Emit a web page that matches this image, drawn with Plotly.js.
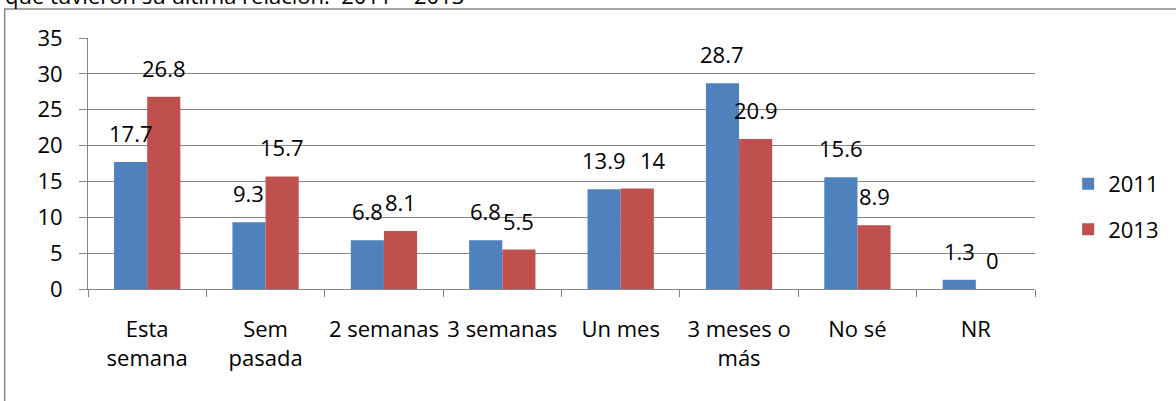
<!DOCTYPE html>
<html>
<head>
<meta charset="utf-8">
<script src="https://cdn.plot.ly/plotly-3.0.1.min.js"></script>
<style>
html,body{margin:0;padding:0;background:#fff;}
#chart{width:1176px;height:401px;}
</style>
</head>
<body>
<div id="chart"></div>
<script>
var categories = ["Esta<br>semana", "Sem<br>pasada", "2 semanas", "3 semanas", "Un mes", "3 meses o<br>más", "No sé", "NR"];
var series2011 = [17.7, 9.3, 6.8, 6.8, 13.9, 28.7, 15.6, 1.3];
var series2013 = [26.8, 15.7, 8.1, 5.5, 14, 20.9, 8.9, 0];
var seriesNames = ["2011", "2013"];
var titleText = "que tuvieron su última relación.  2011 – 2013";

var FONT = "Open Sans, sans-serif";
var FS = 22;
var blue = "#4F81BD", red = "#C0504D";
var bargap = 0.44;
var half = (1 - bargap) / 4;

var traces = [
  {type: "bar", name: seriesNames[0], x: categories, y: series2011, marker: {color: blue}, legendgroup: "a", hoverinfo: "y"},
  {type: "bar", name: seriesNames[1], x: categories, y: series2013, marker: {color: red}, legendgroup: "b", hoverinfo: "y"}
];

var annotations = [];
series2011.forEach(function (v, i) {
  annotations.push({
    x: i - half, y: v, xref: "x", yref: "y",
    text: String(v), showarrow: false,
    xanchor: "center", yanchor: "bottom", yshift: 12,
    font: {family: FONT, size: FS, color: "#000"}
  });
});
series2013.forEach(function (v, i) {
  // like Excel, nudge the second label right when both labels sit at the same height
  var nudge = (Math.abs(series2011[i] - v) < 0.5) ? 16 : 0;
  annotations.push({
    x: i + half, y: v, xref: "x", yref: "y",
    text: String(v), showarrow: false,
    xanchor: "center", yanchor: "bottom", yshift: 12, xshift: nudge,
    font: {family: FONT, size: FS, color: "#000"}
  });
});

annotations.push({
  xref: "paper", yref: "paper", x: -0.09, y: 1, xanchor: "left", yanchor: "bottom",
  yshift: 26, text: titleText, showarrow: false,
  font: {family: FONT, size: 22, color: "#000"}
});

var layout = {
  width: 1176, height: 401,
  margin: {l: 88, r: 136, t: 38, b: 112},
  paper_bgcolor: "#fff", plot_bgcolor: "#fff",
  font: {family: FONT, size: FS, color: "#000"},
  barmode: "group", bargap: bargap, bargroupgap: 0,
  showlegend: true,
  legend: {x: 1.035, xanchor: "left", y: 0.327, yanchor: "middle", font: {family: FONT, size: FS}, tracegroupgap: 14, traceorder: "grouped", bgcolor: "rgba(0,0,0,0)"},
  xaxis: {
    type: "category", tickson: "boundaries", ticks: "outside", ticklen: 7, tickcolor: "#868686",
    showline: true, linecolor: "#868686", linewidth: 1, showgrid: false, tickangle: 0,
    ticklabelstandoff: 21, tickfont: {family: FONT, size: FS}, automargin: false
  },
  yaxis: {
    range: [0, 35], dtick: 5, tick0: 0, ticks: "outside", ticklen: 8, tickcolor: "#868686",
    showline: true, linecolor: "#868686", linewidth: 1,
    showgrid: true, gridcolor: "#868686", gridwidth: 1, zeroline: false,
    ticklabelstandoff: 12, tickfont: {family: FONT, size: FS}, automargin: false
  },
  annotations: annotations,
  shapes: [
    {type: "rect", xref: "paper", yref: "paper", x0: -0.088, x1: 1.3, y0: -0.6, y1: 1.1155, line: {color: "#888", width: 1.5}, fillcolor: "rgba(0,0,0,0)", layer: "below"}
  ]
};

Plotly.newPlot("chart", traces, layout, {displayModeBar: false, staticPlot: true});
</script>
</body>
</html>
